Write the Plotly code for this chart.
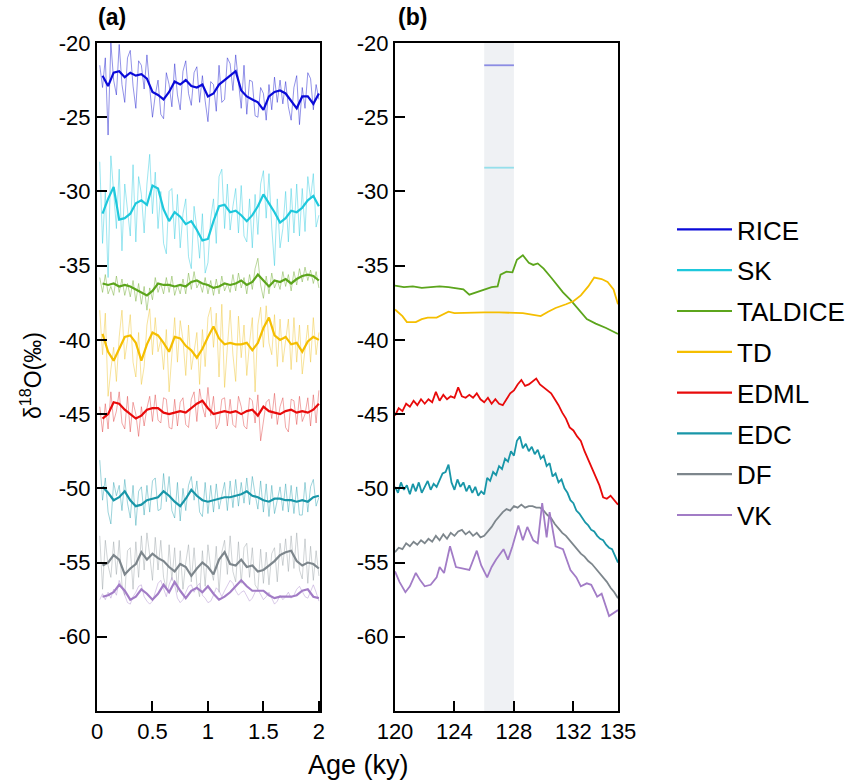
import plotly.graph_objects as go

# ---------------- data ----------------
RECORDS = ["RICE", "SK", "TALDICE", "TD", "EDML", "EDC", "DF", "VK"]
COLORS = {
    "RICE": "#0a0ad8", "SK": "#1ec8dc", "TALDICE": "#5ca51c", "TD": "#f5be00",
    "EDML": "#e80a0a", "EDC": "#1896a8", "DF": "#7d868c", "VK": "#a27cc6",
}
RAW_COLORS = {
    "RICE": "rgba(40,40,210,0.5)", "SK": "rgba(60,205,225,0.5)", "TALDICE": "rgba(120,175,60,0.5)",
    "TD": "rgba(240,200,60,0.5)", "EDML": "rgba(225,60,60,0.45)", "EDC": "rgba(40,160,175,0.45)",
    "DF": "rgba(150,160,165,0.45)", "VK": "rgba(180,150,210,0.5)",
}

# panel (a): last 2 ky
AGE_SMOOTH = [0.05, 0.1, 0.15, 0.2, 0.25, 0.3, 0.35, 0.4, 0.45, 0.5, 0.55, 0.6, 0.65, 0.7, 0.75, 0.8,
              0.85, 0.9, 0.95, 1.0, 1.05, 1.1, 1.15, 1.2, 1.25, 1.3, 1.35, 1.4, 1.45, 1.5, 1.55, 1.6,
              1.65, 1.7, 1.75, 1.8, 1.85, 1.9, 1.95, 2.0]
AGE_RAW = [0.025, 0.05, 0.075, 0.1, 0.125, 0.15, 0.175, 0.2, 0.225, 0.25, 0.275, 0.3, 0.325, 0.35,
           0.375, 0.4, 0.425, 0.45, 0.475, 0.5, 0.525, 0.55, 0.575, 0.6, 0.625, 0.65, 0.675, 0.7,
           0.725, 0.75, 0.775, 0.8, 0.825, 0.85, 0.875, 0.9, 0.925, 0.95, 0.975, 1.0, 1.025, 1.05,
           1.075, 1.1, 1.125, 1.15, 1.175, 1.2, 1.225, 1.25, 1.275, 1.3, 1.325, 1.35, 1.375, 1.4,
           1.425, 1.45, 1.475, 1.5, 1.525, 1.55, 1.575, 1.6, 1.625, 1.65, 1.675, 1.7, 1.725, 1.75,
           1.775, 1.8, 1.825, 1.85, 1.875, 1.9, 1.925, 1.95, 1.975, 2.0]

RICE_SMOOTH = [-22.2, -22.9, -22.0, -21.9, -22.3, -22.0, -22.2, -22.1, -22.4, -23.3, -23.5, -23.8, -23.3,
               -22.6, -22.8, -22.5, -22.9, -23.0, -22.8, -23.6, -23.4, -22.8, -22.5, -22.2, -21.9, -23.2,
               -23.6, -23.8, -24.0, -24.5, -23.6, -23.3, -23.2, -23.4, -23.9, -24.4, -23.6, -23.6, -24.1, -23.4]
RICE_RAW = [-21.5, -23.0, -21.0, -26.2, -20.0, -22.5, -23.5, -20.1, -22.8, -24.0,
            -21.0, -20.5, -22.9, -24.4, -21.2, -21.5, -23.1, -20.8, -23.0, -25.0,
            -23.5, -22.5, -24.8, -25.1, -22.0, -22.8, -24.3, -21.4, -23.5, -24.5,
            -21.9, -21.2, -23.4, -24.2, -22.0, -21.6, -24.0, -22.2, -23.9, -25.3,
            -22.6, -22.8, -24.6, -21.5, -24.0, -23.8, -21.0, -21.4, -23.2, -20.8,
            -22.6, -24.4, -21.5, -24.8, -22.5, -22.6, -24.9, -25.0, -23.0, -23.4,
            -25.2, -22.8, -24.5, -22.3, -24.0, -22.5, -24.1, -22.6, -24.3, -25.2,
            -23.0, -22.2, -25.5, -23.0, -24.4, -22.0, -22.4, -24.5, -22.8, -23.8]

SK_SMOOTH = [-31.5, -30.5, -29.7, -31.9, -31.8, -31.5, -30.8, -30.6, -30.9, -29.6, -29.8, -31.2, -32.0,
             -31.4, -31.7, -32.2, -32.0, -32.6, -33.3, -33.2, -32.0, -31.0, -30.9, -31.4, -31.3, -31.6,
             -32.0, -31.6, -31.0, -30.2, -30.8, -31.4, -32.1, -31.8, -31.3, -31.4, -31.1, -30.6, -30.3, -31.0]
SK_RAW = [-28.0, -33.5, -30.0, -35.8, -27.6, -29.8, -32.5, -28.5, -34.0, -29.5,
          -31.2, -33.0, -28.2, -33.4, -29.0, -30.2, -32.8, -29.5, -27.5, -31.5,
          -28.7, -32.5, -30.0, -33.5, -34.2, -30.0, -29.8, -33.2, -30.2, -33.8,
          -31.5, -30.5, -34.4, -35.2, -31.0, -32.5, -34.5, -31.5, -35.5, -34.8,
          -31.8, -30.5, -33.5, -29.0, -28.5, -32.5, -29.5, -32.6, -31.0, -29.8,
          -32.8, -29.6, -33.0, -33.4, -30.5, -33.8, -30.2, -32.9, -29.5, -28.6,
          -31.8, -28.8, -32.4, -35.0, -30.5, -33.8, -32.5, -30.0, -33.4, -29.8,
          -32.8, -29.5, -33.0, -29.8, -32.7, -29.0, -30.5, -28.8, -32.4, -31.6]

TALDICE_SMOOTH = [-36.2, -36.3, -36.2, -36.4, -36.3, -36.4, -36.6, -36.8, -37.0, -36.7, -36.2, -36.3, -36.3,
                  -36.4, -36.3, -36.4, -36.1, -36.0, -36.2, -36.3, -36.5, -36.4, -36.2, -36.3, -36.2, -36.0,
                  -36.3, -36.1, -35.6, -36.0, -36.4, -36.0, -36.1, -35.9, -36.2, -35.9, -35.7, -35.6, -35.7, -36.0]
TALDICE_RAW = [-35.8, -36.8, -35.6, -36.9, -36.4, -37.0, -35.7, -36.8, -35.9, -37.0,
               -36.2, -37.1, -36.0, -37.4, -36.2, -37.6, -36.4, -38.0, -36.5, -37.3,
               -35.8, -36.8, -36.2, -36.9, -35.8, -36.8, -35.7, -37.0, -36.3, -36.9,
               -35.9, -36.9, -35.5, -36.6, -35.4, -36.5, -36.1, -36.8, -35.8, -36.9,
               -36.0, -37.0, -35.9, -36.9, -35.7, -36.7, -36.2, -36.8, -35.6, -36.7,
               -35.5, -36.5, -35.8, -36.9, -35.6, -36.6, -35.2, -34.5, -36.3, -37.2,
               -35.7, -36.9, -35.5, -36.5, -36.0, -36.6, -35.4, -36.4, -35.6, -36.7,
               -35.4, -36.3, -35.2, -36.1, -35.1, -36.0, -35.3, -36.2, -35.4, -36.5]

TD_SMOOTH = [-39.6, -40.8, -41.4, -40.6, -39.8, -39.7, -40.2, -41.4, -40.3, -39.5, -39.7, -40.2, -40.8,
             -39.8, -39.9, -40.4, -40.7, -41.2, -40.6, -39.8, -39.1, -39.9, -40.3, -40.2, -40.3, -40.3,
             -40.2, -40.7, -40.2, -39.2, -38.5, -39.7, -40.0, -39.8, -40.3, -40.2, -40.8, -40.1, -39.8, -40.0]
TD_RAW = [-38.0, -41.0, -38.2, -43.8, -42.0, -40.5, -42.8, -39.8, -38.0, -41.3,
          -40.0, -38.3, -41.5, -42.5, -39.5, -43.0, -41.8, -39.0, -37.9, -41.0,
          -38.5, -40.8, -40.0, -42.0, -39.3, -43.5, -41.0, -38.5, -41.5, -38.7,
          -40.0, -42.4, -39.0, -42.0, -40.8, -39.5, -43.0, -39.3, -41.8, -38.5,
          -37.8, -40.5, -38.2, -42.5, -37.6, -43.2, -40.5, -38.0, -41.0, -42.8,
          -38.4, -41.2, -39.0, -42.4, -40.2, -38.5, -43.5, -39.0, -37.8, -40.5,
          -37.7, -40.2, -41.0, -38.3, -41.8, -38.6, -41.5, -40.0, -38.6, -42.0,
          -38.5, -41.5, -39.0, -42.3, -40.5, -39.0, -41.5, -38.5, -41.0, -39.5]

EDML_SMOOTH = [-45.3, -45.0, -44.2, -44.3, -44.7, -45.0, -45.3, -45.1, -44.7, -44.6, -44.6, -44.9, -45.0,
               -44.9, -44.8, -44.9, -44.6, -44.3, -44.1, -44.6, -45.0, -44.9, -44.8, -44.9, -44.8, -45.0,
               -44.8, -44.7, -45.1, -44.5, -44.8, -44.9, -45.0, -44.8, -44.7, -44.9, -44.8, -44.9, -44.7, -44.3]
EDML_RAW = [-44.5, -46.2, -44.3, -46.0, -43.5, -45.5, -44.8, -43.5, -45.6, -46.0,
            -43.8, -46.2, -44.2, -45.0, -46.5, -44.5, -45.8, -44.6, -43.8, -45.5,
            -43.7, -45.4, -45.6, -43.9, -44.0, -45.9, -46.0, -44.0, -45.8, -44.2,
            -43.9, -45.7, -45.9, -44.0, -43.5, -45.5, -43.3, -44.5, -45.2, -43.2,
            -45.1, -43.8, -46.0, -45.6, -44.0, -43.9, -45.8, -44.0, -45.7, -45.9,
            -43.8, -44.5, -45.8, -46.0, -43.9, -44.1, -45.6, -43.7, -46.8, -45.5,
            -44.2, -44.0, -45.3, -43.6, -45.7, -44.5, -43.9, -45.9, -46.2, -44.0,
            -44.1, -45.7, -43.8, -45.5, -45.0, -43.9, -45.8, -43.7, -45.6, -43.4]

EDC_SMOOTH = [-49.9, -50.3, -50.8, -50.6, -50.2, -50.8, -51.2, -51.1, -50.8, -50.7, -50.6, -50.2, -50.5,
              -50.9, -51.2, -50.7, -50.1, -50.5, -50.8, -50.9, -50.8, -50.7, -50.6, -50.6, -50.5, -50.4,
              -50.2, -50.5, -50.6, -50.8, -50.9, -50.7, -50.7, -50.8, -50.8, -50.9, -50.8, -50.9, -50.6, -50.5]
EDC_RAW = [-48.1, -50.8, -49.3, -51.6, -52.4, -49.6, -50.5, -49.8, -51.5, -49.4,
           -51.0, -52.0, -49.8, -52.5, -50.2, -49.9, -51.8, -49.8, -51.6, -49.5,
           -49.3, -51.5, -51.4, -49.0, -50.9, -49.2, -51.5, -52.0, -49.6, -52.2,
           -50.0, -51.5, -49.8, -49.2, -50.8, -49.5, -51.6, -51.9, -49.6, -51.7,
           -49.8, -51.6, -49.7, -51.4, -50.5, -49.6, -51.5, -49.5, -51.3, -49.4,
           -51.2, -49.6, -51.0, -49.3, -51.1, -49.2, -50.4, -51.4, -49.5, -51.6,
           -49.7, -51.9, -49.8, -51.7, -50.8, -49.9, -51.5, -49.7, -51.6, -49.8,
           -51.7, -49.9, -51.8, -51.8, -49.6, -51.6, -49.9, -49.4, -51.2, -50.6]

DF_SMOOTH = [-55.2, -55.0, -54.5, -54.8, -55.8, -55.4, -55.1, -54.3, -54.8, -54.4, -54.7, -54.9, -55.3,
             -55.6, -55.1, -55.3, -55.9, -55.4, -55.0, -55.3, -55.8, -54.8, -54.3, -55.1, -55.2, -54.8,
             -55.3, -55.2, -55.6, -55.5, -55.2, -54.9, -54.5, -54.3, -54.2, -54.9, -55.2, -55.0, -55.1, -55.4]
DF_RAW = [-53.2, -56.8, -53.5, -55.2, -56.0, -53.6, -55.8, -53.5, -56.5, -57.2,
          -54.2, -54.0, -56.8, -53.6, -56.0, -53.2, -55.5, -53.0, -54.5, -56.2,
          -53.3, -55.5, -53.5, -56.0, -56.8, -53.8, -56.2, -54.0, -57.0, -54.2,
          -56.8, -55.0, -53.8, -56.3, -54.0, -56.5, -57.3, -54.2, -56.6, -53.8,
          -55.4, -56.2, -53.9, -57.0, -54.3, -53.5, -55.8, -53.2, -55.6, -56.3,
          -53.6, -56.4, -54.0, -53.7, -56.0, -54.0, -56.5, -56.8, -54.1, -56.4,
          -54.3, -56.5, -54.4, -54.0, -56.3, -53.7, -55.2, -53.4, -55.6, -53.2,
          -55.4, -53.0, -55.5, -56.1, -53.4, -56.4, -53.9, -56.2, -54.2, -55.9]

VK_SMOOTH = [-57.3, -57.2, -57.0, -56.5, -56.9, -57.5, -57.3, -56.8, -57.1, -57.5, -57.1, -56.5, -57.0,
             -56.3, -56.9, -57.4, -56.9, -56.7, -57.0, -56.6, -57.1, -57.5, -57.3, -57.0, -56.6, -56.2,
             -56.6, -56.9, -56.9, -56.9, -57.2, -57.4, -57.3, -57.3, -57.3, -57.2, -56.9, -56.8, -57.3, -57.4]
VK_RAW = [-57.5, -57.1, -57.5, -57.0, -57.4, -56.8, -57.2, -56.2, -56.7, -57.2,
          -57.7, -57.8, -57.3, -57.0, -56.6, -56.5, -57.3, -57.6, -57.8, -57.6,
          -57.0, -56.4, -56.2, -56.8, -57.3, -56.5, -56.0, -56.5, -57.4, -57.7,
          -57.5, -57.0, -56.6, -56.5, -57.0, -56.6, -56.4, -57.2, -57.4, -57.7,
          -57.6, -57.2, -56.7, -56.9, -57.3, -56.9, -56.5, -56.2, -56.4, -56.9,
          -57.2, -57.0, -56.9, -57.3, -57.6, -57.4, -57.0, -56.8, -57.2, -57.5,
          -57.3, -57.0, -57.4, -57.8, -57.6, -57.2, -57.5, -57.3, -57.0, -57.4,
          -57.2, -56.8, -56.6, -57.0, -57.3, -57.4, -56.9, -56.5, -57.0, -57.6]

# panel (b): Last Interglacial, 120-135 ky
LIG_BAND = [126, 128]
RICE_B_AGE, RICE_B = [126, 128], [-21.5, -21.5]
SK_B_AGE, SK_B = [126, 128], [-28.4, -28.4]
TALDICE_B_AGE = [120, 120.6, 121.2, 121.8, 122.4, 123.0, 123.6, 124.1, 124.6, 125.0, 125.5, 126.0, 126.5,
                 126.9, 127.1, 127.5, 127.9, 128.2, 128.6, 129.0, 129.3, 129.6, 130.0, 130.5, 130.9, 131.3,
                 131.8, 132.3, 132.9, 133.5, 134.2, 135.0]
TALDICE_B = [-36.35, -36.45, -36.4, -36.5, -36.45, -36.4, -36.45, -36.55, -36.6, -36.95, -36.8, -36.6, -36.45,
             -36.4, -35.6, -35.4, -35.45, -34.6, -34.3, -34.8, -34.95, -34.85, -35.2, -35.8, -36.3, -36.8,
             -37.3, -37.9, -38.6, -38.9, -39.2, -39.6]
TD_B_AGE = [120, 120.5, 120.8, 121.4, 121.8, 122.2, 122.8, 123.2, 123.6, 124.0, 125, 126, 127, 128, 128.6,
            129.2, 129.8, 130.3, 130.8, 131.5, 132.0, 132.5, 133.0, 133.4, 133.9, 134.3, 134.7, 135.0]
TD_B = [-37.95, -38.4, -38.8, -38.8, -38.6, -38.5, -38.5, -38.3, -38.1, -38.2, -38.15, -38.15, -38.15, -38.15,
        -38.2, -38.3, -38.4, -38.1, -37.85, -37.6, -37.4, -37.0, -36.4, -35.8, -35.9, -36.1, -36.6, -37.6]
AGE_B_025 = [120.0, 120.25, 120.5, 120.75, 121.0, 121.25, 121.5, 121.75, 122.0, 122.25, 122.5, 122.75,
             123.0, 123.25, 123.5, 123.75, 124.0, 124.25, 124.5, 124.75, 125.0, 125.25, 125.5, 125.75,
             126.0, 126.25, 126.5, 126.75, 127.0, 127.25, 127.5, 127.75, 128.0, 128.25, 128.5, 128.75,
             129.0, 129.25, 129.5, 129.75, 130.0, 130.25, 130.5, 130.75, 131.0, 131.25, 131.5, 131.75,
             132.0, 132.25, 132.5, 132.75, 133.0, 133.25, 133.5, 133.75, 134.0, 134.25, 134.5, 134.75, 135.0]
EDML_B = [-45.1, -44.6, -44.8, -44.3, -44.5, -44.1, -44.4, -44.0, -44.3, -44.0, -44.2, -43.5,
          -44.1, -43.7, -44.0, -43.8, -43.9, -43.2, -43.8, -43.9, -43.7, -43.9, -43.6, -44.0,
          -44.2, -43.9, -44.3, -44.0, -44.3, -44.4, -44.0, -43.6, -43.4, -43.0, -42.7, -43.1,
          -43.0, -42.8, -42.6, -43.0, -43.2, -43.4, -43.6, -44.0, -44.4, -44.9, -45.3, -45.9,
          -46.1, -46.5, -46.8, -47.5, -48.1, -48.7, -49.3, -49.8, -50.6, -50.7, -50.5, -50.8, -51.1]
DF_B = [-54.3, -54.0, -54.1, -53.7, -53.9, -53.6, -53.8, -53.5, -53.7, -53.4, -53.6, -53.2,
        -53.5, -53.1, -53.4, -53.0, -53.2, -52.9, -52.8, -53.1, -52.9, -53.2, -53.0, -53.3,
        -53.2, -52.9, -52.6, -52.2, -51.9, -51.6, -51.4, -51.5, -51.2, -51.3, -51.1, -51.3,
        -51.2, -51.2, -51.3, -51.3, -51.5, -51.8, -52.0, -52.4, -52.7, -53.0, -53.2, -53.5,
        -53.8, -54.1, -54.4, -54.6, -54.9, -55.1, -55.4, -55.7, -56.0, -56.3, -56.7, -57.0, -57.4]
AGE_B_02 = [120.0, 120.2, 120.4, 120.6, 120.8, 121.0, 121.2, 121.4, 121.6, 121.8, 122.0, 122.2, 122.4,
            122.6, 122.8, 123.0, 123.2, 123.4, 123.6, 123.8, 124.0, 124.2, 124.4, 124.6, 124.8, 125.0,
            125.2, 125.4, 125.6, 125.8, 126.0, 126.2, 126.4, 126.6, 126.8, 127.0, 127.2, 127.4, 127.6,
            127.8, 128.0, 128.2, 128.4, 128.6, 128.8, 129.0, 129.2, 129.4, 129.6, 129.8, 130.0, 130.2,
            130.4, 130.6, 130.8, 131.0, 131.2, 131.4, 131.6, 131.8, 132.0, 132.2, 132.4, 132.6, 132.8,
            133.0, 133.2, 133.4, 133.6, 133.8, 134.0, 134.2, 134.4, 134.6, 134.8, 135.0]
EDC_B = [-49.9, -50.3, -49.6, -50.1, -49.8, -50.4, -49.7, -50.2, -49.6, -50.3, -49.9, -49.5, -50.1,
         -49.7, -49.9, -49.4, -49.0, -48.9, -48.4, -49.6, -50.1, -49.4, -49.9, -49.6, -50.2, -49.8,
         -50.3, -49.9, -50.5, -50.2, -50.4, -49.3, -49.5, -48.9, -49.1, -48.5, -48.7, -48.0, -48.2,
         -47.5, -47.8, -46.8, -46.5, -47.3, -47.0, -47.5, -47.2, -47.7, -47.4, -48.0, -47.8, -48.5,
         -48.3, -49.2, -49.0, -49.6, -49.4, -50.0, -50.3, -50.8, -51.0, -51.5, -51.7, -52.0, -52.3,
         -52.5, -52.8, -52.9, -53.2, -53.4, -53.5, -53.8, -54.0, -54.1, -54.5, -55.0]
VK_B_AGE = [120.0, 120.3, 120.7, 121.0, 121.4, 121.7, 122.0, 122.4, 122.8, 123.0, 123.3, 123.7, 124.1,
            124.6, 125.0, 125.5, 125.8, 126.2, 126.5, 126.8, 127.3, 127.6, 127.9, 128.3, 128.6, 128.9,
            129.3, 129.6, 129.9, 130.2, 130.4, 130.8, 131.3, 131.8, 132.2, 132.5, 132.9, 133.2, 133.6,
            133.9, 134.4, 135.0]
VK_B = [-55.6, -56.3, -57.0, -56.6, -55.7, -56.2, -56.6, -56.5, -56.0, -55.3, -55.7, -53.9, -55.3,
        -55.4, -55.5, -54.2, -55.2, -56.0, -55.3, -54.8, -54.1, -54.8, -53.9, -52.5, -53.5, -52.6,
        -53.5, -53.7, -51.0, -53.3, -51.6, -53.9, -54.1, -55.5, -56.0, -56.6, -56.4, -56.5, -57.3,
        -57.1, -58.6, -58.2]

Y_TICKS = [-20, -25, -30, -35, -40, -45, -50, -55, -60]
Y_TICKTEXT = ["-20", "-25", "-30", "-35", "-40", "-45", "-50", "-55", "-60"]
XA_TICKS = [0, 0.5, 1, 1.5, 2]
XA_TICKTEXT = ["0", "0.5", "1", "1.5", "2"]
XB_TICKS = [120, 124, 128, 132, 135]
XB_TICKTEXT = ["120", "124", "128", "132", "135"]

smooth_a = {"RICE": RICE_SMOOTH, "SK": SK_SMOOTH, "TALDICE": TALDICE_SMOOTH, "TD": TD_SMOOTH,
            "EDML": EDML_SMOOTH, "EDC": EDC_SMOOTH, "DF": DF_SMOOTH, "VK": VK_SMOOTH}
raw_a = {"RICE": RICE_RAW, "SK": SK_RAW, "TALDICE": TALDICE_RAW, "TD": TD_RAW,
         "EDML": EDML_RAW, "EDC": EDC_RAW, "DF": DF_RAW, "VK": VK_RAW}
panel_b = {"RICE": (RICE_B_AGE, RICE_B), "SK": (SK_B_AGE, SK_B), "TALDICE": (TALDICE_B_AGE, TALDICE_B),
           "TD": (TD_B_AGE, TD_B), "EDML": (AGE_B_025, EDML_B), "EDC": (AGE_B_02, EDC_B),
           "DF": (AGE_B_025, DF_B), "VK": (VK_B_AGE, VK_B)}

FONT = "Liberation Sans, Arial, sans-serif"
W, H = 860, 782


def px(x):
    return x / W


def py(y):
    return 1 - y / H


fig = go.Figure()

# panel (a): thin raw + thick smoothed
for name in RECORDS:
    vals = raw_a[name]
    fig.add_trace(go.Scatter(x=AGE_RAW[:len(vals)], y=vals, mode="lines", xaxis="x", yaxis="y",
                             line=dict(color=RAW_COLORS[name], width=1), showlegend=False,
                             hoverinfo="skip"))
for name in RECORDS:
    fig.add_trace(go.Scatter(x=AGE_SMOOTH, y=smooth_a[name], mode="lines", xaxis="x", yaxis="y",
                             name=name, legendgroup=name,
                             line=dict(color=COLORS[name], width=2.2)))

# panel (b)
for name in RECORDS:
    xs, ys = panel_b[name]
    col = COLORS[name]
    if name in ("RICE", "SK"):
        col = RAW_COLORS[name]
    fig.add_trace(go.Scatter(x=xs, y=ys, mode="lines", xaxis="x2", yaxis="y2", showlegend=False,
                             legendgroup=name, line=dict(color=col, width=1.8)))

fig.add_shape(type="rect", xref="x2", yref="y2 domain", x0=LIG_BAND[0], x1=LIG_BAND[1], y0=0, y1=1,
              fillcolor="rgba(228,231,236,0.6)", line_width=0, layer="below")

axis_common = dict(showline=True, linecolor="black", linewidth=2, mirror=True, ticks="inside",
                   ticklen=10, tickwidth=2, tickcolor="black", showgrid=False, zeroline=False,
                   automargin=False, tickfont=dict(family=FONT, size=22, color="black"))
y_dom = [py(711), py(43)]
fig.update_layout(
    width=W, height=H,
    margin=dict(l=0, r=0, t=0, b=0, autoexpand=False),
    plot_bgcolor="white", paper_bgcolor="white",
    xaxis=dict(domain=[px(97), px(320)], range=[0, 2.01], tickvals=XA_TICKS, ticktext=XA_TICKTEXT,
               anchor="y", **axis_common),
    yaxis=dict(domain=y_dom, range=[-65, -20], tickvals=Y_TICKS, ticktext=Y_TICKTEXT, anchor="x",
               **axis_common),
    xaxis2=dict(domain=[px(395), px(618)], range=[120, 135], tickvals=XB_TICKS,
                ticktext=XB_TICKTEXT, anchor="y2", **axis_common),
    yaxis2=dict(domain=y_dom, range=[-65, -20], tickvals=Y_TICKS, ticktext=Y_TICKTEXT, anchor="x2",
                **axis_common),
    legend=dict(x=px(672), y=py(206), xanchor="left", yanchor="top",
                font=dict(family=FONT, size=26, color="black"), tracegroupgap=4,
                itemwidth=55, bgcolor="rgba(0,0,0,0)"),
    font=dict(family=FONT, color="black"),
)

fig.add_annotation(text="δ<sup>18</sup>O(‰)", xref="paper", yref="paper", x=px(31), y=py(376),
                   xanchor="center", yanchor="middle", textangle=-90, showarrow=False,
                   font=dict(family=FONT, size=23))
fig.add_annotation(text="Age (ky)", xref="paper", yref="paper", x=px(358), y=py(765),
                   xanchor="center", yanchor="middle", showarrow=False, font=dict(family=FONT, size=27))
fig.add_annotation(text="<b>(a)</b>", xref="paper", yref="paper", x=px(96), y=py(17),
                   xanchor="left", yanchor="middle", showarrow=False, font=dict(family=FONT, size=23))
fig.add_annotation(text="<b>(b)</b>", xref="paper", yref="paper", x=px(396), y=py(17),
                   xanchor="left", yanchor="middle", showarrow=False, font=dict(family=FONT, size=23))

# drop the page's default body margin so the figure sits at the window's corner
fig.write_html("out.html", config={"displayModeBar": False},
               post_script="document.body.style.margin = '0px';")
